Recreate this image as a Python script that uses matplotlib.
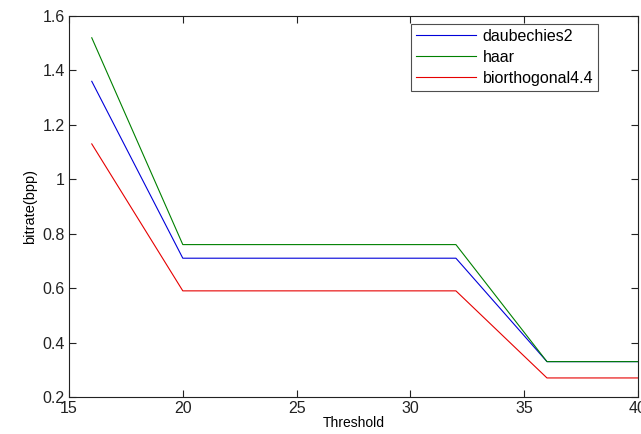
import matplotlib
matplotlib.use("Agg")
import matplotlib.pyplot as plt

threshold = [16, 20, 32, 36, 40]
daubechies2 = [1.36, 0.71, 0.71, 0.33, 0.33]
haar = [1.52, 0.76, 0.76, 0.33, 0.33]
biorthogonal44 = [1.13, 0.59, 0.59, 0.27, 0.27]
xticks = [15, 20, 25, 30, 35, 40]
yticks = [0.2, 0.4, 0.6, 0.8, 1.0, 1.2, 1.4, 1.6]
yticklabels = ["0.2", "0.4", "0.6", "0.8", "1", "1.2", "1.4", "1.6"]

plt.rcParams['font.family'] = ['Liberation Sans', 'DejaVu Sans']

fig = plt.figure(figsize=(6.41, 4.34), dpi=100)
ax = fig.add_axes([69/641, 1-397/434, (638-69)/641, (397-16)/434])

ax.plot(threshold, daubechies2, color=(0, 0, 0.85), lw=0.8, label="daubechies2")
ax.plot(threshold, haar, color=(0, 0.5, 0), lw=0.8, label="haar")
ax.plot(threshold, biorthogonal44, color=(0.9, 0, 0), lw=0.8, label="biorthogonal4.4")

ax.set_xlim(15, 40)
ax.set_ylim(0.2, 1.6)
ax.set_xticks(xticks)
ax.set_yticks(yticks)
ax.set_yticklabels(yticklabels)
ax.tick_params(direction='in', top=True, right=True, length=5, width=0.8,
               labelsize=11.5, colors='#222222', pad=3)
for s in ax.spines.values():
    s.set_linewidth(0.8)
    s.set_color('#222222')

ax.set_xlabel("Threshold", fontsize=10, labelpad=0)
ax.set_ylabel("bitrate(bpp)", fontsize=10.5, labelpad=4)

leg = ax.legend(loc='upper right', bbox_to_anchor=(0.930, 0.979), borderaxespad=0,
                fontsize=11.5, handlelength=3.8, fancybox=False, frameon=True,
                labelspacing=0.38, borderpad=0.3, handletextpad=0.4)
leg.get_frame().set_edgecolor('#222222')
leg.get_frame().set_linewidth(0.8)

fig.savefig("out.png", dpi=100)
